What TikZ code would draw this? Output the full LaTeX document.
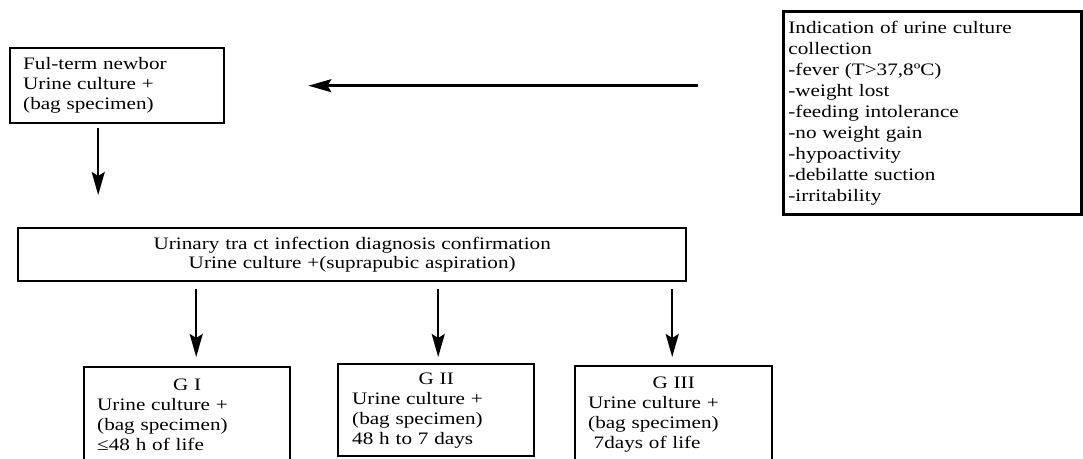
\documentclass[tikz,border=0pt]{standalone}
\usepackage{fontspec}
\setmainfont{Liberation Serif}[FakeStretch=1.21]
\usetikzlibrary{arrows.meta,calc}
\tikzset{
  box/.style={draw, line width=2.4bp, rectangle, anchor=north west, inner ysep=0pt,
    font=\fontsize{17.5bp}{20bp}\selectfont},
  lbox/.style={box, align=left},
  arr/.style={line width=2.4bp, -{Stealth[length=23bp,width=13bp,inset=4bp]}}
}
\begin{document}
\begin{tikzpicture}[x=1bp,y=-1bp]
\useasboundingbox (0,0) rectangle (1083,459);
\clip (0,0) rectangle (1083,459);
\node[lbox, inner xsep=13bp, text width=188bp, minimum width=214bp, minimum height=75bp] (box1) at (9,47)
  {Ful-term newbor\\Urine culture +\\(bag specimen)};
\node[lbox, line width=2.8bp, inner xsep=5bp, text width=288bp, minimum width=298bp, minimum height=203bp,
  font=\fontsize{17.5bp}{21bp}\selectfont] (ind) at (782,10)
  {Indication of urine culture\\collection\\-fever (T>37,8ºC)\\-weight lost\\-feeding intolerance\\-no weight gain\\-hypoactivity\\-debilatte suction\\-irritability};
\node[box, align=center, inner xsep=0pt, text width=668bp, minimum width=668bp, minimum height=53bp,
  font=\fontsize{17.5bp}{19bp}\selectfont] (big) at (17,227)
  {Urinary tra ct infection diagnosis confirmation\\Urine culture +(suprapubic aspiration)};
\node[lbox, inner xsep=13bp, text width=180bp, minimum width=206bp, minimum height=96bp] (g1) at (83,366)
  {\makebox[\linewidth][c]{G I}\\Urine culture +\\(bag specimen)\\≤48 h of life};
\node[lbox, inner xsep=14bp, text width=168bp, minimum width=196bp, minimum height=92bp] (g2) at (337,363)
  {\makebox[\linewidth][c]{G II}\\Urine culture +\\(bag specimen)\\48 h to 7 days};
\node[lbox, inner xsep=13bp, text width=171bp, minimum width=197bp, minimum height=96bp] (g3) at (574,365)
  {\makebox[\linewidth][c]{G III}\\Urine culture +\\(bag specimen)\\\hspace*{5.5bp}7days of life};
\draw[arr] ($(ind.west |- box1.east)+(-84,0)$) -- ($(box1.east)+(83,0)$);
\draw[arr] ($(box1.south)+(-19,4)$) -- ($(box1.south |- big.north)+(-19,-32)$);
\draw[arr] ($(g1.north |- big.south)+(9,7)$) -- ($(g1.north)+(9,-9)$);
\draw[arr] ($(g2.north |- big.south)+(2,7)$) -- ($(g2.north)+(2,-6)$);
\draw[arr] ($(g3.north |- big.south)+(-1.5,7)$) -- ($(g3.north)+(-1.5,-8)$);
\end{tikzpicture}
\end{document}
